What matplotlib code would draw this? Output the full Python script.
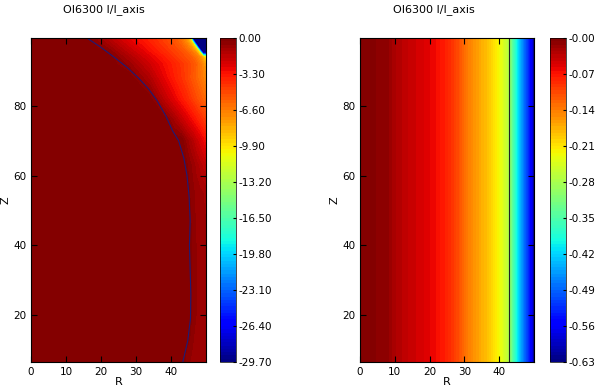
import numpy as np
import matplotlib
matplotlib.use('Agg')
import matplotlib.pyplot as plt

# left panel: OI6300 I/I_axis on the (R, Z) grid
left_r = [0, 16, 22, 28, 34, 38, 41, 43, 44.5, 45.5, 46.3, 47.3, 48.3, 49.3, 50]
left_z = [6.5, 20, 40, 55, 63, 70, 76, 82, 88, 92, 94, 95.3, 96.6, 98, 99.5]
left_val = [
    [0, 0, 0, 0, 0, 0, 0, 0, -0.4, -0.6, -0.7, -0.75, -0.8, -0.8, -0.8],
    [0, 0, 0, 0, 0, 0, 0, 0, 0, 0, -0.4, -0.6, -0.7, -0.8, -0.8],
    [0, 0, 0, 0, 0, 0, 0, 0, 0, 0, -0.4, -0.6, -0.7, -0.8, -0.8],
    [0, 0, 0, 0, 0, 0, 0, 0, 0, -0.3, -0.5, -0.7, -0.8, -0.9, -1.0],
    [0, 0, 0, 0, 0, 0, 0, 0, -0.2, -0.5, -0.7, -1.0, -1.3, -1.6, -1.8],
    [0, 0, 0, 0, 0, 0, 0, 0, -0.7, -1.1, -1.4, -1.9, -2.3, -2.8, -3.2],
    [0, 0, 0, 0, 0, 0, -1.0, -1.8, -2.4, -2.8, -3.1, -3.5, -3.9, -4.3, -4.6],
    [0, 0, 0, 0, -0.1, -1.6, -2.7, -3.4, -3.9, -4.3, -4.6, -5.0, -5.4, -5.8, -6.0],
    [0, 0, 0, 0, -1.3, -2.7, -3.6, -4.2, -4.7, -5.1, -5.4, -5.8, -6.2, -6.6, -7.0],
    [0, 0, 0, -0.7, -2.1, -3.1, -3.8, -4.3, -4.7, -5.0, -5.3, -5.7, -6.3, -7.0, -7.8],
    [0, 0, 0, -1.2, -2.6, -3.5, -4.3, -4.8, -5.2, -5.5, -5.8, -6.3, -7.1, -8.4, -10.3],
    [0, 0, -0.2, -1.6, -3.0, -3.9, -4.6, -5.1, -5.6, -6.0, -6.4, -7.2, -10.2, -29.7, -29.7],
    [0, 0, -0.6, -2.0, -3.3, -4.2, -4.9, -5.5, -6.2, -6.8, -7.6, -9.8, -29.7, -29.7, -29.7],
    [0, 0, -1.0, -2.4, -3.6, -4.5, -5.2, -5.9, -6.8, -7.9, -9.6, -29.7, -29.7, -29.7, -29.7],
    [0, 0, -1.4, -2.7, -3.8, -4.7, -5.4, -6.3, -7.6, -9.6, -29.7, -29.7, -29.7, -29.7, -29.7],
]
# boundary contour drawn on the left panel
line_r = [43.5, 44.9, 45.7, 45.8, 45.6, 45.4, 45.6, 45.3, 44.7, 43.8, 42.3, 40.6,
          38.7, 36.2, 33.6, 30.8, 27.6, 23.8, 19.8, 16.0]
line_z = [6.5, 12.5, 19, 26, 33, 40, 47, 54, 60, 65, 70, 72.8,
          77, 81.4, 85, 88, 91, 94, 97, 99.5]

# right panel: profile depends on R only
right_r = [0, 8, 10, 14, 18, 22, 25, 28, 31, 34, 37, 40, 42.5, 44, 46, 48, 49.5, 50]
right_z = [6.5, 99.5]
right_val = [-0.0007, -0.012, -0.025, -0.04, -0.05, -0.065, -0.08, -0.105, -0.14,
             -0.165, -0.19, -0.225, -0.265, -0.35, -0.44, -0.51, -0.57, -0.63]
right_line_r = 42.9

title = 'OI6300 I/I_axis'
fs = 7.5

fig = plt.figure(figsize=(6, 3.9), dpi=100)
W, H = 600.0, 390.0
ax1 = fig.add_axes([31 / W, 28 / H, 174.5 / W, 324 / H])
cax1 = fig.add_axes([220 / W, 28 / H, 16 / W, 324 / H])
ax2 = fig.add_axes([360 / W, 28 / H, 174 / W, 324 / H])
cax2 = fig.add_axes([550 / W, 28 / H, 16 / W, 324 / H])


def panel(ax, cax, r, z, val):
    val = np.asarray(val)
    vmin, vmax = val.min(), val.max()
    levels = np.linspace(vmin, vmax, 100)
    cs = ax.contourf(r, z, val, levels=levels, cmap='jet')
    ax.set_xlim(0, 50)
    ax.set_ylim(6.5, 99.5)
    ax.set_xticks([0, 10, 20, 30, 40])
    ax.set_yticks([20, 40, 60, 80])
    ax.tick_params(direction='in', top=True, right=True, labelsize=fs, length=4)
    ax.set_xlabel('R', fontsize=8, labelpad=0)
    ax.set_ylabel('Z', fontsize=8, labelpad=1.5)
    cb = fig.colorbar(cs, cax=cax, ticks=np.linspace(vmin, vmax, 10), format='%.2f')
    cb.ax.tick_params(labelsize=fs, length=2, direction='in', pad=2)
    cb.outline.set_linewidth(0.5)
    return cs


panel(ax1, cax1, left_r, left_z, left_val)
ax1.plot(line_r, line_z, color='#1c1c78', lw=0.8)

right_grid = np.array([right_val, right_val])
panel(ax2, cax2, right_r, right_z, right_grid)
ax2.axvline(right_line_r, color='#222222', lw=0.8)

fig.text(104 / W, 1 - 10 / H, title, ha='center', va='center', fontsize=8)
fig.text(434 / W, 1 - 10 / H, title, ha='center', va='center', fontsize=8)

fig.savefig('out.png', dpi=100)
